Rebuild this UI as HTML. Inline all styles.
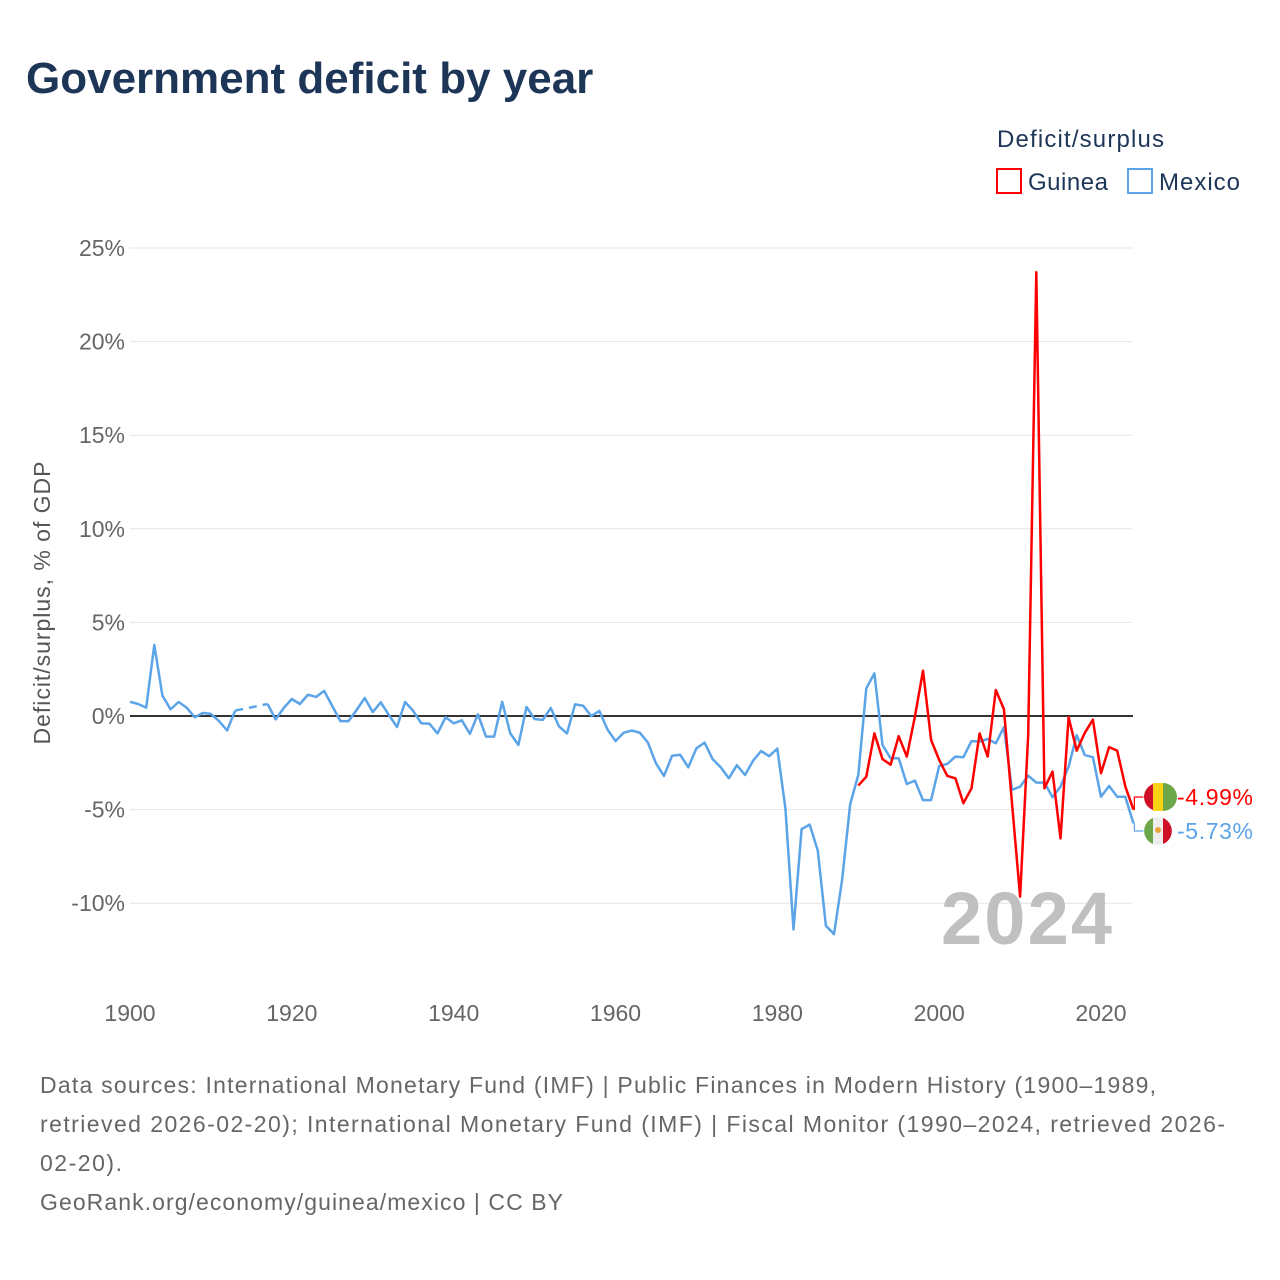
<!DOCTYPE html>
<html><head><meta charset="utf-8">
<style>
body{margin:0;background:#fff;font-family:"Liberation Sans",sans-serif;}
#wrap{position:relative;width:1280px;height:1280px;overflow:hidden;}
</style></head>
<body>
<div id="wrap">
<svg id="chart" width="1280" height="1280">
  <text x="26" y="93" font-size="44" font-weight="bold" fill="#1d3557">Government deficit by year</text>
  <text x="997" y="147" font-size="24" fill="#1d3557" textLength="167">Deficit/surplus</text>
  <g>
    <rect x="997" y="169" width="24" height="24" fill="none" stroke="#f00" stroke-width="2"/>
    <text x="1028" y="190" font-size="24" fill="#1d3557" textLength="80">Guinea</text>
  </g>
  <g>
    <rect x="1128" y="169" width="24" height="24" fill="none" stroke="#5ca4e8" stroke-width="2"/>
    <text x="1159" y="190" font-size="24" fill="#1d3557" textLength="81">Mexico</text>
  </g>
  <text transform="translate(50,603) rotate(-90)" text-anchor="middle" font-size="23" fill="#555" textLength="283">Deficit/surplus, % of GDP</text>
  <g id="grid"></g>
  <g id="xticks"></g>
  <text x="941" y="944" font-size="74" font-weight="bold" fill="#c0c0c0" textLength="171">2024</text>
  <g id="series"></g>
  <g>
    <circle cx="1158" cy="797" r="14" fill="#ce1126"/>
    <rect x="1153" y="783" width="10" height="28" fill="#fcd116"/>
    <path d="M1163 783 A14 14 0 0 1 1163 811 Z" fill="#6ea64a"/>
    <text x="1177" y="805" font-size="23" fill="#f00" textLength="76">-4.99%</text>
  </g>
  <g>
    <circle cx="1158" cy="831" r="14" fill="#eee"/>
    <path d="M1153 818 A14 14 0 0 0 1153 844 Z" fill="#6ea64a"/>
    <path d="M1163 818 A14 14 0 0 1 1163 844 Z" fill="#ce1126"/>
    <circle cx="1158" cy="830" r="3" fill="#e8a33c"/>
    <text x="1177" y="839" font-size="23" fill="#5ca4e8" textLength="76">-5.73%</text>
  </g>
  <g font-size="23" fill="#666">
    <text x="40" y="1093" textLength="1116">Data sources: International Monetary Fund (IMF) | Public Finances in Modern History (1900–1989,</text>
    <text x="40" y="1132" textLength="1185">retrieved 2026-02-20); International Monetary Fund (IMF) | Fiscal Monitor (1990–2024, retrieved 2026-</text>
    <text x="40" y="1171" textLength="82">02-20).</text>
    <text x="40" y="1210" textLength="523">GeoRank.org/economy/guinea/mexico | CC BY</text>
  </g>
</svg>
</div>
<script>
const yTicks=[25,20,15,10,5,0,-5,-10];
const yTickLabels=["25%","20%","15%","10%","5%","0%","-5%","-10%"];
const xTicks=[1900,1920,1940,1960,1980,2000,2020];
const mexicoYears=[1900,1901,1902,1903,1904,1905,1906,1907,1908,1909,1910,1911,1912,1913,1917,1918,1919,1920,1921,1922,1923,1924,1925,1926,1927,1928,1929,1930,1931,1932,1933,1934,1935,1936,1937,1938,1939,1940,1941,1942,1943,1944,1945,1946,1947,1948,1949,1950,1951,1952,1953,1954,1955,1956,1957,1958,1959,1960,1961,1962,1963,1964,1965,1966,1967,1968,1969,1970,1971,1972,1973,1974,1975,1976,1977,1978,1979,1980,1981,1982,1983,1984,1985,1986,1987,1988,1989,1990,1991,1992,1993,1994,1995,1996,1997,1998,1999,2000,2001,2002,2003,2004,2005,2006,2007,2008,2009,2010,2011,2012,2013,2014,2015,2016,2017,2018,2019,2020,2021,2022,2023,2024];
const mexicoValues=[0.76,0.64,0.45,3.8,1.09,0.36,0.75,0.45,-0.07,0.16,0.11,-0.27,-0.77,0.29,0.64,-0.18,0.42,0.91,0.64,1.14,1.02,1.34,0.53,-0.27,-0.27,0.32,0.96,0.21,0.73,0.05,-0.59,0.75,0.27,-0.39,-0.41,-0.93,-0.07,-0.39,-0.23,-0.95,0.09,-1.1,-1.1,0.76,-0.93,-1.55,0.48,-0.16,-0.21,0.43,-0.55,-0.93,0.62,0.55,0,0.27,-0.71,-1.34,-0.89,-0.78,-0.89,-1.42,-2.53,-3.2,-2.12,-2.07,-2.74,-1.73,-1.42,-2.3,-2.74,-3.33,-2.63,-3.15,-2.39,-1.87,-2.15,-1.74,-4.93,-11.4,-6.04,-5.8,-7.2,-11.2,-11.65,-8.76,-4.7,-3.15,1.48,2.28,-1.55,-2.26,-2.26,-3.63,-3.45,-4.49,-4.49,-2.67,-2.56,-2.17,-2.2,-1.34,-1.37,-1.23,-1.46,-0.6,-3.95,-3.77,-3.19,-3.56,-3.56,-4.34,-3.77,-2.71,-1.02,-2.09,-2.2,-4.31,-3.74,-4.31,-4.31,-5.73];
const guineaYears=[1990,1991,1992,1993,1994,1995,1996,1997,1998,1999,2000,2001,2002,2003,2004,2005,2006,2007,2008,2009,2010,2011,2012,2013,2014,2015,2016,2017,2018,2019,2020,2021,2022,2023,2024];
const guineaValues=[-3.72,-3.24,-0.93,-2.3,-2.6,-1.08,-2.17,-0.03,2.42,-1.28,-2.35,-3.2,-3.33,-4.66,-3.86,-0.93,-2.17,1.39,0.37,-4.66,-9.65,-1.0,23.7,-3.86,-2.97,-6.54,-0.07,-1.85,-0.9,-0.2,-3.06,-1.66,-1.85,-3.76,-4.99];

const NS="http://www.w3.org/2000/svg";
function X(yr){return 130+(yr-1900)*(1101-130)/120;}
function Y(v){return 716-v*18.72;}
function mk(tag,attrs,parent){const e=document.createElementNS(NS,tag);for(const k in attrs)e.setAttribute(k,attrs[k]);parent.appendChild(e);return e;}
const grid=document.getElementById('grid');
yTicks.forEach((t,i)=>{
  const l=mk('line',{x1:130,x2:1133,y1:Y(t),y2:Y(t),stroke:t===0?'#333':'#e6e6e6','stroke-width':t===0?2:1},grid);
  
  
  const tx=mk('text',{x:125,y:Y(t)+8,'text-anchor':'end','font-size':23,fill:'#666'},grid);
  tx.textContent=yTickLabels[i];
  
  
});
const xt=document.getElementById('xticks');
xTicks.forEach(t=>{
  const tx=mk('text',{x:X(t),y:1021,'text-anchor':'middle','font-size':23,fill:'#666'},xt);
  tx.textContent=t;
  
  
});
const sg=document.getElementById('series');
function drawSeries(years,vals,color,name,labelY){
  const g=mk('g',{},sg);
  
  
  let seg=[];
  function flush(){
    if(seg.length>1){
      const p=mk('polyline',{points:seg.join(' '),fill:'none',stroke:color,'stroke-width':2.5,'stroke-linejoin':'round'},g);
      
      
    }
    seg=[];
  }
  for(let i=0;i<years.length;i++){
    if(i>0&&years[i]-years[i-1]>1){
      flush();
      const d=mk('line',{x1:X(years[i-1]),y1:Y(vals[i-1]),x2:X(years[i]),y2:Y(vals[i]),stroke:color,'stroke-width':2.5,'stroke-dasharray':'8,6'},g);
      
      
    }
    seg.push(X(years[i]).toFixed(1)+','+Y(vals[i]).toFixed(1));
  }
  flush();
  const lx=X(years[years.length-1]), ly=Y(vals[vals.length-1]);
  const c=mk('polyline',{points:`${lx},${ly} ${lx+1},${ly} ${lx+1},${labelY} ${lx+10},${labelY}`,fill:'none',stroke:color,'stroke-width':1.2},g);
  
  
}
drawSeries(mexicoYears,mexicoValues,'#5ca4e8','mexico-series',831);
drawSeries(guineaYears,guineaValues,'#f00','guinea-series',797);
</script>
</body></html>
